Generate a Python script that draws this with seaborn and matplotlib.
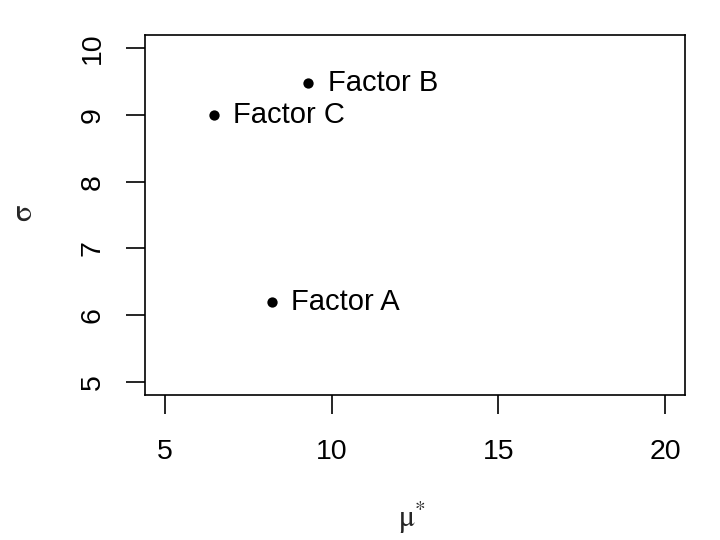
import matplotlib
matplotlib.use("Agg")
import matplotlib.pyplot as plt
import seaborn as sns
import pandas as pd

factors = ["Factor A", "Factor B", "Factor C"]
mu_star = [8.2, 9.3, 6.47]
sigma = [6.2, 9.48, 9.0]
x_ticks = [5, 10, 15, 20]
y_ticks = [5, 6, 7, 8, 9, 10]

sns.set_style("white")
plt.rcParams['font.family'] = ['Liberation Sans', 'DejaVu Sans']
plt.rcParams['mathtext.fontset'] = 'stix'

df = pd.DataFrame({"mu": mu_star, "sigma": sigma, "factor": factors})

fig = plt.figure(figsize=(7.2, 5.4), dpi=100)
ax = fig.add_axes([145/720, 1-395/540, 540/720, 360/540])
sns.scatterplot(data=df, x="mu", y="sigma", ax=ax, color="black", s=55,
                edgecolor="black", linewidth=0, legend=False)
for _, r in df.iterrows():
    ax.annotate(r["factor"], (r["mu"], r["sigma"]), xytext=(14, 0),
                textcoords="offset points", va="center", ha="left",
                fontsize=21, color="black")

ax.set_xlim(4.4, 20.6)
ax.set_ylim(4.8, 10.2)
ax.set_xticks(x_ticks)
ax.set_yticks(y_ticks)
ax.set_xticklabels([str(v) for v in x_ticks])
ax.set_yticklabels([str(v) for v in y_ticks], rotation=90, va="center")
ax.tick_params(axis="both", direction="out", length=13.5, width=1.2,
               labelsize=20.5, colors="black", bottom=True, left=True)
ax.tick_params(axis="x", pad=18)
ax.tick_params(axis="y", pad=15)
for sp in ax.spines.values():
    sp.set_color("black")
    sp.set_linewidth(1.2)
ax.set_xlabel("")
ax.set_ylabel("")

fig.text(412/720, 1-518/540, r"$\mathrm{\mu}^{*}$", ha="center", va="center", fontsize=22)
fig.text(24/720, 1-213/540, r"$\mathrm{\sigma}$", ha="center", va="center", fontsize=22, rotation=90)

fig.savefig("out.png", dpi=100)
